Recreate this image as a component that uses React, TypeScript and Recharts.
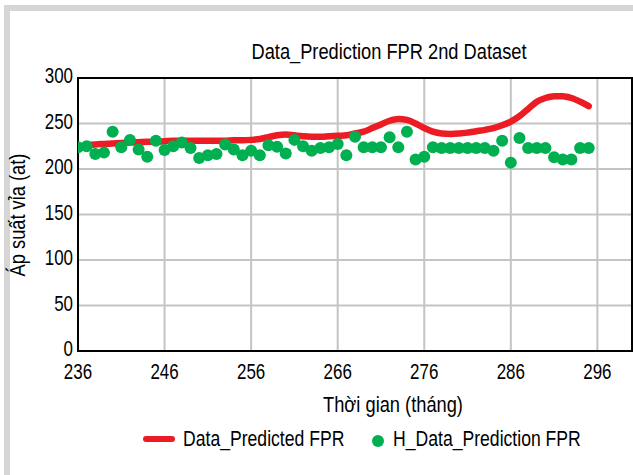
import React from "react";
import {
  ComposedChart,
  Line,
  Scatter,
  XAxis,
  YAxis,
  CartesianGrid,
  ReferenceArea,
} from "recharts";

// Months (x values)
const months: number[] = [
  236, 237, 238, 239, 240, 241, 242, 243, 244, 245,
  246, 247, 248, 249, 250, 251, 252, 253, 254, 255,
  256, 257, 258, 259, 260, 261, 262, 263, 264, 265,
  266, 267, 268, 269, 270, 271, 272, 273, 274, 275,
  276, 277, 278, 279, 280, 281, 282, 283, 284, 285,
  286, 287, 288, 289, 290, 291, 292, 293, 294, 295,
];

// Data_Predicted FPR (red line), null where not drawn
const predictedFPR: (number | null)[] = [
  null, 226, 227, 227.5, 228, 228.5, 229, 229.5, 230, 230,
  230.5, 231, 231, 231, 231, 231, 231, 231, 231.5, 231.5,
  232, 233, 235, 237, 238, 237, 236, 235.5, 235.5, 236,
  236.5, 237, 239, 241, 245, 249, 253, 255, 254, 250,
  245, 241, 239, 238.5, 239, 240, 241.5, 243, 245, 248,
  252, 258, 266, 274, 278, 280, 280, 278, 274, 269,
];

// H_Data_Prediction FPR (green dots)
const hPredictionFPR: number[] = [
  224, 225, 216.5, 218, 241, 224, 232, 221.5, 213.5, 231,
  221, 225, 229, 223, 212, 215, 216.5, 227, 221.5, 215,
  220, 215, 226, 224.5, 217, 232, 225, 220, 223, 224,
  227.5, 215, 235.5, 224, 224, 224, 235, 224, 241, 210.5,
  213.5, 224, 223, 223, 223, 223, 223, 223, 220, 231,
  207, 234, 223, 223, 223, 213, 210.5, 210.5, 223, 223,
];

const xTicks: number[] = [236, 246, 256, 266, 276, 286, 296];
const yTicks: number[] = [0, 50, 100, 150, 200, 250, 300];

const title = "Data_Prediction FPR 2nd Dataset";
const xLabel = "Thời gian (tháng)";
const yLabel = "Áp suất vỉa (at)";
const lineName = "Data_Predicted FPR";
const dotName = "H_Data_Prediction FPR";

const FONT = '"Liberation Sans", Arial, sans-serif';
const RED = "#ed1c24";
const GREEN = "#00b050";
const SX = 0.83;
const INK = "#000";

const table = months.map((m, i) => ({
  x: m,
  fpr: predictedFPR[i],
  h: hPredictionFPR[i],
}));

const XTick = (props: any) => {
  const { x, y, payload } = props;
  return (
    <text
      transform={`translate(${x},${y + 28}) scale(0.77,1)`}
      textAnchor="middle"
      fontFamily={FONT}
      fontSize={22}
      fill={INK}
    >
      {payload.value}
    </text>
  );
};

const YTick = (props: any) => {
  const { x, y, payload } = props;
  return (
    <text
      transform={`translate(${x - 5},${y + 5}) scale(0.77,1)`}
      textAnchor="end"
      fontFamily={FONT}
      fontSize={22}
      fill={INK}
    >
      {payload.value}
    </text>
  );
};

const Dot = (props: any) => {
  const { cx, cy } = props;
  if (cx == null || cy == null) return null;
  return <circle cx={cx} cy={cy} r={6} fill={GREEN} />;
};

const centered = (cx: number, cy: number, text: string, rotate = 0) => (
  <div
    style={{
      position: "absolute",
      left: cx - 200,
      top: cy - 11,
      width: 400,
      height: 22,
      textAlign: "center",
      fontSize: 22,
      lineHeight: "22px",
      whiteSpace: "nowrap",
      transform: `rotate(${rotate}deg) scaleX(${SX})`,
      transformOrigin: "200px 11px",
    }}
  >
    {text}
  </div>
);

const leftText = (x: number, cy: number, text: string) => (
  <div
    style={{
      position: "absolute",
      left: x,
      top: cy - 11,
      fontSize: 22,
      lineHeight: "22px",
      whiteSpace: "nowrap",
      transform: `scaleX(0.8)`,
      transformOrigin: "0px 11px",
    }}
  >
    {text}
  </div>
);

export default function App() {
  return (
    <div
      style={{
        position: "absolute",
        left: 0,
        top: 0,
        width: 633,
        height: 475,
        background: "#fff",
        overflow: "hidden",
        fontFamily: FONT,
        color: INK,
      }}
    >
      <div
        style={{
          position: "absolute",
          left: 4,
          top: 5,
          width: 700,
          height: 600,
          borderLeft: "6px solid #d6d6d6",
          borderTop: "6px solid #d6d6d6",
          boxSizing: "border-box",
        }}
      />
      <div style={{ position: "absolute", left: 0, top: 0 }}>
        <ComposedChart
          width={633}
          height={475}
          data={table}
          margin={{ top: 78, right: 1, bottom: 94, left: 8 }}
        >
          <CartesianGrid stroke="#c4c4c4" strokeWidth={2} />
          <XAxis
            dataKey="x"
            type="number"
            domain={[236, 300]}
            ticks={xTicks}
            allowDataOverflow
            axisLine={false}
            tickLine={false}
            tickSize={0}
            tickMargin={0}
            height={30}
            tick={<XTick />}
            interval={0}
          />
          <YAxis
            type="number"
            domain={[0, 300]}
            ticks={yTicks}
            axisLine={false}
            tickLine={false}
            tickSize={0}
            tickMargin={0}
            width={70}
            tick={<YTick />}
            interval={0}
          />
          <ReferenceArea
            x1={236}
            x2={300}
            y1={0}
            y2={300}
            fill="none"
            fillOpacity={0}
            stroke="#000"
            strokeWidth={2}
          />
          <Line
            dataKey="fpr"
            name={lineName}
            type="monotone"
            stroke={RED}
            strokeWidth={6.5}
            strokeLinecap="round"
            strokeLinejoin="round"
            dot={false}
            activeDot={false}
            connectNulls={false}
            isAnimationActive={false}
          />
          <Scatter
            dataKey="h"
            name={dotName}
            fill={GREEN}
            shape={<Dot />}
            isAnimationActive={false}
          />
        </ComposedChart>
      </div>
      {centered(389, 52, title)}
      {centered(393, 405, xLabel)}
      {centered(18, 215, yLabel, -90)}
      <div
        style={{
          position: "absolute",
          left: 143,
          top: 436,
          width: 32,
          height: 6,
          borderRadius: 3,
          background: RED,
        }}
      />
      {leftText(183, 439, lineName)}
      <div
        style={{
          position: "absolute",
          left: 372,
          top: 435,
          width: 12,
          height: 12,
          borderRadius: 6,
          background: GREEN,
        }}
      />
      {leftText(393, 439, dotName)}
    </div>
  );
}
